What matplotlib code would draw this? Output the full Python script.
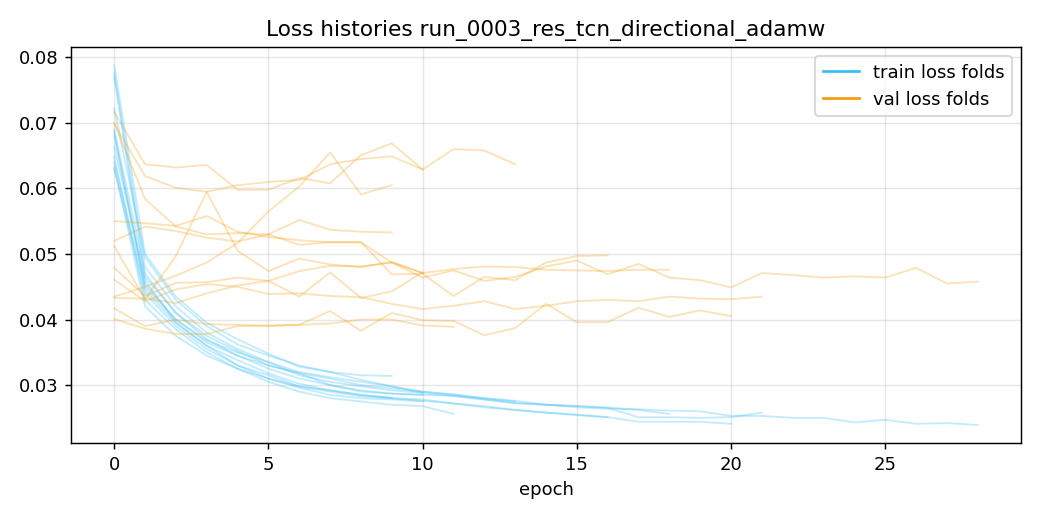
import matplotlib
matplotlib.use("Agg")
import matplotlib.pyplot as plt
from matplotlib.lines import Line2D

TRAIN_COLOR = "#38bdf8"
VAL_COLOR = "#f59e0b"

title = "Loss histories run_0003_res_tcn_directional_adamw"

train_f1 = [0.0722, 0.0495, 0.0430, 0.0390, 0.0362, 0.0345, 0.0330, 0.0320, 0.0308, 0.0298, 0.0290, 0.0286, 0.0280, 0.0275]
val_f1 = [0.0717, 0.0637, 0.0632, 0.0636, 0.0598, 0.0598, 0.0616, 0.0608, 0.0651, 0.0669, 0.0629, 0.0660, 0.0658, 0.0637]

train_f2 = [0.0633, 0.0420, 0.0375, 0.0345, 0.0325, 0.0310, 0.0296, 0.0285, 0.0280, 0.0278, 0.0275]
val_f2 = [0.0699, 0.0619, 0.0601, 0.0595, 0.0605, 0.0610, 0.0613, 0.0637, 0.0645, 0.0649, 0.0629]

train_f3 = [0.0788, 0.0500, 0.0435, 0.0395, 0.0370, 0.0348, 0.0328, 0.0320, 0.0315, 0.0314]
val_f3 = [0.0435, 0.0450, 0.0467, 0.0487, 0.0517, 0.0565, 0.0603, 0.0655, 0.0591, 0.0605]

train_f4 = [0.0686, 0.0445, 0.0395, 0.0360, 0.0330, 0.0315, 0.0298, 0.0292, 0.0285, 0.0281]
val_f4 = [0.0700, 0.0584, 0.0542, 0.0530, 0.0532, 0.0530, 0.0552, 0.0537, 0.0534, 0.0533]

train_f5 = [0.0664, 0.0460, 0.0395, 0.0360, 0.0338, 0.0318, 0.0302, 0.0292, 0.0285, 0.0280, 0.0276, 0.0272, 0.0266, 0.0262, 0.0258, 0.0254, 0.0251]
val_f5 = [0.0550, 0.0547, 0.0543, 0.0558, 0.0534, 0.0526, 0.0521, 0.0518, 0.0518, 0.0469, 0.0470, 0.0436, 0.0465, 0.0460, 0.0487, 0.0497, 0.0498]

train_f6 = [0.0776, 0.0480, 0.0420, 0.0380, 0.0355, 0.0335, 0.0320, 0.0312, 0.0305, 0.0298, 0.0288, 0.0283, 0.0278, 0.0273, 0.0270, 0.0268, 0.0266, 0.0262, 0.0256]
val_f6 = [0.0479, 0.0436, 0.0456, 0.0457, 0.0464, 0.0459, 0.0474, 0.0482, 0.0481, 0.0487, 0.0471, 0.0477, 0.0481, 0.0480, 0.0476, 0.0475, 0.0474, 0.0476, 0.0476]

train_f7 = [0.0690, 0.0470, 0.0410, 0.0370, 0.0345, 0.0330, 0.0318, 0.0310, 0.0300, 0.0295, 0.0290, 0.0285, 0.0280, 0.0276, 0.0270, 0.0266, 0.0264, 0.0263, 0.0261, 0.0260, 0.0253, 0.0253, 0.0250, 0.0250, 0.0243, 0.0247, 0.0241, 0.0242, 0.0239]
val_f7 = [0.0520, 0.0542, 0.0535, 0.0525, 0.0519, 0.0530, 0.0514, 0.0518, 0.0518, 0.0487, 0.0464, 0.0475, 0.0459, 0.0465, 0.0481, 0.0490, 0.0469, 0.0485, 0.0464, 0.0460, 0.0449, 0.0471, 0.0468, 0.0464, 0.0466, 0.0464, 0.0479, 0.0455, 0.0458]

train_f8 = [0.0640, 0.0450, 0.0400, 0.0365, 0.0345, 0.0325, 0.0310, 0.0300, 0.0292, 0.0287, 0.0285, 0.0284, 0.0278, 0.0272, 0.0270, 0.0268, 0.0265, 0.0251, 0.0251, 0.0250, 0.0251, 0.0258]
val_f8 = [0.0461, 0.0428, 0.0446, 0.0454, 0.0450, 0.0439, 0.0440, 0.0436, 0.0434, 0.0424, 0.0416, 0.0421, 0.0428, 0.0416, 0.0421, 0.0428, 0.0430, 0.0428, 0.0435, 0.0432, 0.0431, 0.0435]

train_f9 = [0.0630, 0.0440, 0.0390, 0.0355, 0.0330, 0.0310, 0.0298, 0.0290, 0.0283, 0.0280, 0.0278, 0.0272, 0.0268, 0.0262, 0.0258, 0.0255, 0.0251, 0.0244, 0.0244, 0.0244, 0.0241]
val_f9 = [0.0417, 0.0390, 0.0400, 0.0393, 0.0392, 0.0391, 0.0392, 0.0413, 0.0383, 0.0410, 0.0399, 0.0398, 0.0376, 0.0387, 0.0424, 0.0396, 0.0396, 0.0418, 0.0404, 0.0414, 0.0405]

train_f10 = [0.0649, 0.0430, 0.0385, 0.0350, 0.0325, 0.0305, 0.0290, 0.0280, 0.0275, 0.0270, 0.0268, 0.0256]
val_f10 = [0.0401, 0.0386, 0.0378, 0.0378, 0.0390, 0.0390, 0.0392, 0.0394, 0.0400, 0.0400, 0.0391, 0.0389]

train_f11 = [0.0680, 0.0455, 0.0400, 0.0368, 0.0350, 0.0335, 0.0315, 0.0305, 0.0298, 0.0292, 0.0288]
val_f11 = [0.0512, 0.0431, 0.0497, 0.0595, 0.0505, 0.0474, 0.0493, 0.0484, 0.0480, 0.0488, 0.0471]

train_f12 = [0.0770, 0.0465, 0.0410, 0.0375, 0.0352, 0.0330, 0.0318, 0.0300, 0.0290, 0.0287, 0.0285]
val_f12 = [0.0433, 0.0432, 0.0425, 0.0440, 0.0452, 0.0459, 0.0435, 0.0472, 0.0433, 0.0443, 0.0472]

train_folds = [train_f1, train_f2, train_f3, train_f4, train_f5, train_f6,
               train_f7, train_f8, train_f9, train_f10, train_f11, train_f12]
val_folds = [val_f1, val_f2, val_f3, val_f4, val_f5, val_f6,
             val_f7, val_f8, val_f9, val_f10, val_f11, val_f12]

fig = plt.figure(figsize=(8, 4), dpi=130)
ax = fig.add_axes([0.0683, 0.148, 0.9134, 0.761])

for tr in train_folds:
    ax.plot(range(len(tr)), tr, color=TRAIN_COLOR, alpha=0.3, linewidth=1.0)
for va in val_folds:
    ax.plot(range(len(va)), va, color=VAL_COLOR, alpha=0.3, linewidth=1.0)

ax.grid(True, alpha=0.3)
ax.set_title(title, fontsize=12)
ax.set_xlabel("epoch", fontsize=10)
ax.tick_params(labelsize=10)

handles = [Line2D([0], [0], color=TRAIN_COLOR, linewidth=1.5),
           Line2D([0], [0], color=VAL_COLOR, linewidth=1.5)]
ax.legend(handles, ["train loss folds", "val loss folds"], loc="upper right", fontsize=10)

fig.savefig("out.png", dpi=130)
